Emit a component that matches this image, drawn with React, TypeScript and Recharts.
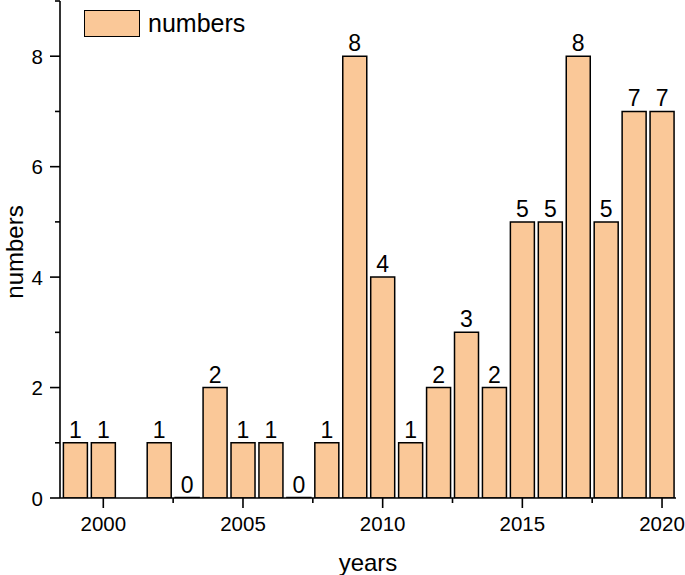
import React from 'react';
import { BarChart, Bar, XAxis, YAxis, LabelList, Legend } from 'recharts';

const years = [1999, 2000, 2002, 2003, 2004, 2005, 2006, 2007, 2008, 2009, 2010, 2011, 2012, 2013, 2014, 2015, 2016, 2017, 2018, 2019, 2020];
const counts = [1, 1, 1, 0, 2, 1, 1, 0, 1, 8, 4, 1, 2, 3, 2, 5, 5, 8, 5, 7, 7];
const xTicks = [2000, 2002.5, 2005, 2007.5, 2010, 2012.5, 2015, 2017.5, 2020];
const yTicks = [0, 1, 2, 3, 4, 5, 6, 7, 8, 9];

const data = years.map((y, i) => ({ year: y, numbers: counts[i] }));

const FONT = '"Liberation Sans", Arial, sans-serif';
const FILL = '#FAC898';

const XTick = (props: any) => {
  const { x, y, payload } = props;
  const major = Number.isInteger(payload.value);
  return (
    <g>
      <line x1={x} x2={x} y1={y} y2={y + (major ? 10 : 5)} stroke="#000" strokeWidth={1.6} />
      {major && (
        <text x={x} y={y + 33} textAnchor="middle" fontSize={20.5} fill="#000" fontFamily={FONT}>
          {payload.value}
        </text>
      )}
    </g>
  );
};

const YTick = (props: any) => {
  const { x, y, payload } = props;
  const major = payload.value % 2 === 0;
  return (
    <g>
      <line x1={x} x2={x - (major ? 10 : 5)} y1={y} y2={y} stroke="#000" strokeWidth={1.6} />
      {major && (
        <text x={x - 17} y={y + 7.5} textAnchor="end" fontSize={20.5} fill="#000" fontFamily={FONT}>
          {payload.value}
        </text>
      )}
    </g>
  );
};

const ValueLabel = (props: any) => {
  const { x, y, width, value } = props;
  if (value === null || value === undefined) return null;
  return (
    <text x={x + width / 2} y={y - 5} textAnchor="middle" fontSize={23} fill="#000" fontFamily={FONT}>
      {value}
    </text>
  );
};

const LegendContent = () => (
  <div style={{ display: 'flex', alignItems: 'center', fontFamily: FONT }}>
    <div style={{ width: 54, height: 25, background: FILL, border: '1.5px solid #000' }} />
    <span style={{ marginLeft: 8, fontSize: 25, color: '#000', lineHeight: '27px' }}>numbers</span>
  </div>
);

export default function App() {
  return (
    <div style={{ position: 'absolute', left: 0, top: 0, width: 685, height: 575, background: '#fff' }}>
      <BarChart width={685} height={575} data={data} margin={{ top: 1, right: 9, bottom: 0, left: 0 }}>
        <XAxis
          dataKey="year"
          type="number"
          domain={[1998.45, 2020.5]}
          allowDataOverflow
          ticks={xTicks}
          interval={0}
          height={77}
          tickSize={0}
          tickMargin={0}
          tickLine={false}
          tick={<XTick />}
          axisLine={{ stroke: '#000', strokeWidth: 1.6 }}
          label={{
            content: () => (
              <text x={368} y={571} textAnchor="middle" fontSize={24} fill="#000" fontFamily={FONT}>
                years
              </text>
            ),
          }}
        />
        <YAxis
          type="number"
          domain={[0, 9]}
          allowDataOverflow
          ticks={yTicks}
          interval={0}
          width={60}
          tickSize={0}
          tickMargin={0}
          tickLine={false}
          tick={<YTick />}
          axisLine={{ stroke: '#000', strokeWidth: 1.6 }}
          label={{
            content: () => (
              <text x={23} y={252} transform="rotate(-90 23 252)" textAnchor="middle" fontSize={24} fill="#000" fontFamily={FONT}>
                numbers
              </text>
            ),
          }}
        />
        <Legend
          layout="horizontal"
          verticalAlign="middle"
          align="center"
          content={<LegendContent />}
          wrapperStyle={{ left: 84, top: 10, width: 'auto', height: 27 }}
        />
        <Bar dataKey="numbers" barSize={24} minPointSize={0.5} fill={FILL} stroke="#000" strokeWidth={1.5} isAnimationActive={false}>
          <LabelList dataKey="numbers" content={<ValueLabel />} />
        </Bar>
      </BarChart>
    </div>
  );
}
